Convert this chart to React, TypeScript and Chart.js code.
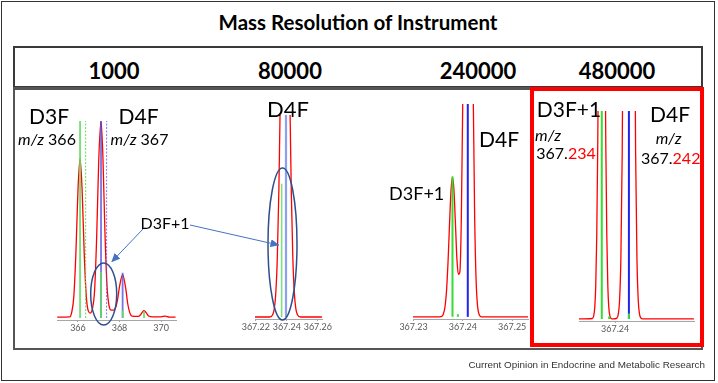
import React, { useEffect, useRef } from "react";
import { Chart, registerables } from "chart.js";

Chart.register(...registerables);

// ---------- DATA ----------
// Panel 1: resolution 1000
const P1_TICKS = [366, 368, 370];
const P1_PROFILE_MZ = [365.0, 365.6, 365.7, 365.8, 365.9, 366.0, 366.1, 366.2, 366.3, 366.4, 366.5, 366.6, 366.7, 366.8, 366.9, 367.0, 367.11, 367.2, 367.3, 367.4, 367.5, 367.6, 367.7, 367.8, 367.9, 368.0, 368.15, 368.3, 368.4, 368.5, 368.6, 368.9, 369.0, 369.1, 369.18, 369.3, 369.4, 369.6, 370.0, 370.2, 370.4, 370.7];
const P1_PROFILE_I = [0.005, 0.006, 0.03, 0.11, 0.33, 0.65, 0.81, 0.65, 0.33, 0.11, 0.035, 0.025, 0.05, 0.14, 0.41, 0.8, 1.0, 0.82, 0.43, 0.16, 0.06, 0.04, 0.04, 0.05, 0.09, 0.16, 0.22, 0.15, 0.07, 0.025, 0.01, 0.008, 0.015, 0.03, 0.037, 0.025, 0.01, 0.006, 0.006, 0.01, 0.005, 0.005];
const P1_GREEN_MZ = [366.1, 367.11, 368.15, 369.18];
const P1_GREEN_I = [1.0, 0.235, 0.04, 0.035];
const P1_BLUE_MZ = [367.11, 368.15];
const P1_BLUE_I = [1.0, 0.23];
const P1_GREEN_DOT_MZ = [366.37];
const P1_GREEN_DOT_I = [1.0];
const P1_BLUE_DOT_MZ = [367.38];
const P1_BLUE_DOT_I = [1.0];

// Panel 2: resolution 80000
const P2_TICKS = [367.22, 367.24, 367.26];
const P2_PROFILE_MZ = [367.2195, 367.2289, 367.2309, 367.2319, 367.2329, 367.2339, 367.2349, 367.2359, 367.2369, 367.2379, 367.2389, 367.2399, 367.2409, 367.2419, 367.2429, 367.2439, 367.2449, 367.2459, 367.2469, 367.2489, 367.2627];
const P2_PROFILE_I = [0, 0, 0.011, 0.039, 0.116, 0.294, 0.626, 1.13, 1.71, 2.21, 2.4, 2.21, 1.71, 1.13, 0.626, 0.294, 0.116, 0.039, 0.011, 0, 0];
const P2_GREEN_MZ = [367.2367];
const P2_GREEN_I = [0.66];
const P2_BLUE_MZ = [367.2395];
const P2_BLUE_I = [1.0];

// Panel 3: resolution 240000
const P3_TICKS = [367.23, 367.24, 367.25];
const P3_PROFILE_MZ = [367.2299, 367.235, 367.2355, 367.236, 367.2364, 367.2367, 367.237, 367.2373, 367.2376, 367.2379, 367.2382, 367.2385, 367.2388, 367.2391, 367.2394, 367.2397, 367.24, 367.2403, 367.2406, 367.24105, 367.2415, 367.2418, 367.2421, 367.2424, 367.2427, 367.243, 367.2433, 367.2436, 367.244, 367.2532];
const P3_PROFILE_I = [0, 0, 0.001, 0.01, 0.05, 0.126, 0.259, 0.435, 0.593, 0.657, 0.593, 0.437, 0.27, 0.2, 0.213, 0.475, 1.05, 1.95, 2.95, 3.72, 2.95, 1.95, 1.05, 0.459, 0.163, 0.047, 0.011, 0.002, 0, 0];
const P3_GREEN_MZ = [367.2379, 367.239];
const P3_GREEN_I = [0.66, 0.012];
const P3_BLUE_MZ = [367.241];
const P3_BLUE_I = [1.0];

// Panel 4: resolution 480000
const P4_TICKS = [367.24];
const P4_PROFILE_MZ = [367.2292, 367.2332, 367.2336, 367.2339, 367.2342, 367.2345, 367.2348, 367.2351, 367.2354, 367.2357, 367.236, 367.2363, 367.2366, 367.2369, 367.2372, 367.2375, 367.2378, 367.2381, 367.2384, 367.2388, 367.2394, 367.2405, 367.2409, 367.2413, 367.2417, 367.2421, 367.2425, 367.2429, 367.2433, 367.2437, 367.2441, 367.2445, 367.2449, 367.2453, 367.2457, 367.2461, 367.2465, 367.2469, 367.2473, 367.2477, 367.2482, 367.2635];
const P4_PROFILE_I = [0, 0.002, 0.016, 0.055, 0.161, 0.4, 0.842, 1.5, 2.28, 2.92, 3.17, 2.92, 2.28, 1.5, 0.842, 0.4, 0.161, 0.055, 0.016, 0.002, 0, 0.004, 0.021, 0.086, 0.29, 0.8, 1.84, 3.51, 5.58, 7.37, 8.08, 7.37, 5.58, 3.51, 1.84, 0.8, 0.29, 0.086, 0.021, 0.004, 0, 0];
const P4_GREEN_MZ = [367.236, 367.2382, 367.2441];
const P4_GREEN_I = [1.0, 0.012, 0.026];
const P4_BLUE_MZ = [367.2441];
const P4_BLUE_I = [1.0];

// Texts
const TITLE = "Mass Resolution of Instrument";
const RESOLUTIONS = ["1000", "80000", "240000", "480000"];
const SOURCE = "Current Opinion in Endocrine and Metabolic Research";

// ---------- LAYOUT / STYLE ----------
const PADX = 26;
const PADT = 4;
const AXIS_H = 20;

const RED = "#ff0000";

function pts(mz: number[], inten: number[]) {
  return mz.map((m, i) => ({ x: m, y: inten[i] }));
}
function sticks(mz: number[], inten: number[]) {
  const out: any[] = [];
  mz.forEach((m, i) => {
    out.push({ x: m, y: 0 }, { x: m, y: inten[i] }, { x: m, y: null });
  });
  return out;
}

type PanelCfg = {
  left: number; right: number; top: number; bottom: number;
  min: number; max: number; ticks: number[];
  datasets: any[];
};

const stickDs = (data: any[], color: string, width: number, dash?: number[]) => ({
  data, borderColor: color, borderWidth: width, borderDash: dash || [], tension: 0, spanGaps: false, clip: 0,
});
const profileDs = (data: any[]) => ({
  data, borderColor: RED, borderWidth: 1.3, cubicInterpolationMode: "monotone", clip: 0,
});

const PANELS: PanelCfg[] = [
  {
    left: 57, right: 176, top: 121, bottom: 320, min: 364.99, max: 370.72, ticks: P1_TICKS,
    datasets: [
      stickDs(sticks(P1_GREEN_MZ, P1_GREEN_I), "#5fdc5f", 1.6),
      stickDs(sticks(P1_BLUE_MZ, P1_BLUE_I), "rgba(70,70,220,0.75)", 1.8),
      stickDs(sticks(P1_GREEN_DOT_MZ, P1_GREEN_DOT_I), "#5fdc5f", 1, [2, 1.5]),
      stickDs(sticks(P1_BLUE_DOT_MZ, P1_BLUE_DOT_I), "rgba(90,90,225,0.8)", 1, [2, 1.5]),
      profileDs(pts(P1_PROFILE_MZ, P1_PROFILE_I)),
    ],
  },
  {
    left: 255, right: 322, top: 115, bottom: 319, min: 367.2195, max: 367.26273, ticks: P2_TICKS,
    datasets: [
      stickDs(sticks(P2_GREEN_MZ, P2_GREEN_I), "#7fe07f", 1.6),
      stickDs(sticks(P2_BLUE_MZ, P2_BLUE_I), "#8d9ff0", 2.2),
      profileDs(pts(P2_PROFILE_MZ, P2_PROFILE_I)),
    ],
  },
  {
    left: 413, right: 528, top: 104, bottom: 319, min: 367.2299, max: 367.2532, ticks: P3_TICKS,
    datasets: [
      stickDs(sticks(P3_GREEN_MZ, P3_GREEN_I), "#33dd33", 2),
      stickDs(sticks(P3_BLUE_MZ, P3_BLUE_I), "#2323ee", 2),
      profileDs(pts(P3_PROFILE_MZ, P3_PROFILE_I)),
    ],
  },
  {
    left: 579, right: 694, top: 111, bottom: 321, min: 367.2292, max: 367.26353, ticks: P4_TICKS,
    datasets: [
      stickDs(sticks(P4_GREEN_MZ, P4_GREEN_I), "#33dd33", 2),
      stickDs(sticks(P4_BLUE_MZ, P4_BLUE_I), "#2323ee", 2),
      profileDs(pts(P4_PROFILE_MZ, P4_PROFILE_I)),
    ],
  },
];

function Spectrum({ cfg }: { cfg: PanelCfg }) {
  const ref = useRef<HTMLCanvasElement | null>(null);
  const w = cfg.right - cfg.left + 2 * PADX;
  const h = PADT + (cfg.bottom - cfg.top) + AXIS_H;
  useEffect(() => {
    if (!ref.current) return;
    const chart = new Chart(ref.current, {
      type: "line",
      data: { datasets: cfg.datasets },
      options: {
        animation: false,
        responsive: false,
        events: [],
        layout: { padding: { left: PADX, right: PADX, top: PADT, bottom: 0 } },
        elements: { point: { radius: 0 } },
        plugins: { legend: { display: false }, tooltip: { enabled: false } },
        scales: {
          x: {
            type: "linear",
            min: cfg.min,
            max: cfg.max,
            afterBuildTicks: (s: any) => { s.ticks = cfg.ticks.map((v) => ({ value: v })); },
            afterFit: (s: any) => { s.height = AXIS_H; },
            grid: { display: true, drawOnChartArea: false, drawTicks: true, tickLength: 2, color: "#a6a6a6" },
            border: { display: true, color: "#a6a6a6", width: 1 },
            ticks: {
              autoSkip: false, maxRotation: 0, minRotation: 0, padding: 1,
              font: { family: "Lato", size: 9 }, color: "#595959",
              callback: (v: any) => String(v),
            },
          },
          y: { display: false, min: -0.01, max: 1 },
        },
      } as any,
    });
    return () => chart.destroy();
  }, []);
  return (
    <canvas
      ref={ref}
      width={w}
      height={h}
      style={{ position: "absolute", left: cfg.left - PADX, top: cfg.top - PADT, width: w, height: h }}
    />
  );
}

function Label(props: any) {
  const { x, y, size, weight = 400, color = "#000", family = "Lato", children } = props;
  return (
    <div
      style={{
        position: "absolute", left: x, top: y, transform: "translate(-50%,-50%)",
        fontSize: size, fontWeight: weight, lineHeight: 1, whiteSpace: "nowrap",
        color, fontFamily: family,
      }}
    >
      {children}
    </div>
  );
}

const I = (t: string) => <span style={{ fontStyle: "italic" }}>{t}</span>;
const R = (t: string) => <span style={{ color: RED }}>{t}</span>;

export default function App() {
  const numX = [114, 290, 478, 617];
  return (
    <div style={{ position: "absolute", left: 0, top: 0, width: 718, height: 383, background: "#fff", overflow: "hidden", fontFamily: "Lato, sans-serif" }}>
      <div style={{ position: "absolute", left: 1, top: 1, width: 714, height: 380, border: "1px solid #333", boxSizing: "border-box" }} />
      <Label x={358} y={22} size={20.5} weight={700}>{TITLE}</Label>
      <div style={{ position: "absolute", left: 13, top: 46, width: 690, height: 42, border: "2px solid #3a3a3a", boxSizing: "border-box" }} />
      <div style={{ position: "absolute", left: 13, top: 87, width: 690, height: 263, border: "2px solid #555", borderTop: "3px solid #555", boxSizing: "border-box" }} />
      {RESOLUTIONS.map((r, i) => (
        <Label key={r} x={numX[i]} y={71} size={22} weight={700}>{r}</Label>
      ))}
      {PANELS.map((p, i) => <Spectrum key={i} cfg={p} />)}
      <div style={{ position: "absolute", left: 530, top: 87, width: 174, height: 260, border: "4px solid " + RED, boxSizing: "border-box" }} />

      {/* panel 1 texts */}
      <Label x={49} y={115} size={21}>D3F</Label>
      <Label x={47} y={139} size={16}>{I("m/z")} 366</Label>
      <Label x={138.5} y={115} size={21}>D4F</Label>
      <Label x={139.5} y={139} size={16}>{I("m/z")} 367</Label>
      <Label x={165} y={223} size={16}>D3F+1</Label>
      {/* panel 2 */}
      <Label x={288} y={108.5} size={22}>D4F</Label>
      {/* panel 3 */}
      <Label x={416.7} y={193} size={18}>D3F+1</Label>
      <Label x={499} y={137.5} size={21}>D4F</Label>
      {/* panel 4 */}
      <Label x={569} y={107.5} size={21}>D3F+1</Label>
      <Label x={548} y={135} size={16}>{I("m/z")}</Label>
      <Label x={566} y={153} size={16}>367.{R("234")}</Label>
      <Label x={670} y={113} size={21}>D4F</Label>
      <Label x={668.7} y={137.5} size={16}>{I("m/z")}</Label>
      <Label x={670.7} y={158} size={16}>367.{R("242")}</Label>

      <svg width={718} height={383} style={{ position: "absolute", left: 0, top: 0, pointerEvents: "none" }}>
        <defs>
          <marker id="ah" markerWidth="9" markerHeight="8" refX="8" refY="4" orient="auto" markerUnits="userSpaceOnUse">
            <path d="M0,0 L9,4 L0,8 z" fill="#4472c4" />
          </marker>
        </defs>
        <ellipse cx={103.7} cy={294} rx={13} ry={31} fill="none" stroke="#2f4f8c" strokeWidth={1.5} />
        <ellipse cx={282.5} cy={244} rx={14.5} ry={76} fill="none" stroke="#2f4f8c" strokeWidth={1.5} />
        <line x1={143} y1={229} x2={112} y2={261.5} stroke="#4472c4" strokeWidth={1} markerEnd="url(#ah)" />
        <line x1={190} y1={225} x2={278.5} y2={245} stroke="#4472c4" strokeWidth={1} markerEnd="url(#ah)" />
      </svg>

      <div style={{ position: "absolute", right: 13, top: 365, transform: "translateY(-50%)", fontFamily: "'Liberation Sans', Arial, sans-serif", fontSize: 9.9, color: "#333", whiteSpace: "nowrap", lineHeight: 1 }}>
        {SOURCE}
      </div>
    </div>
  );
}
